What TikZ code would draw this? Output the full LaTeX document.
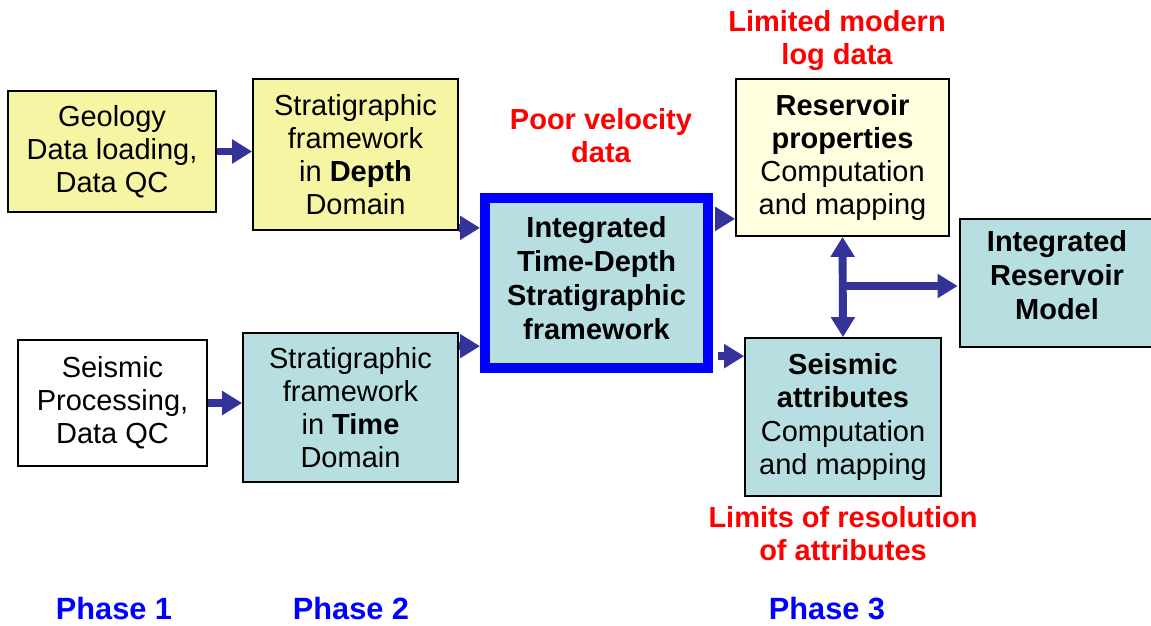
\documentclass[tikz,border=0pt]{standalone}
\usepackage{fontspec}
\setmainfont{Liberation Sans}
\usetikzlibrary{arrows.meta,positioning}
\definecolor{stratyellow}{HTML}{F5F5A3}
\definecolor{resyellow}{HTML}{FFFFDF}
\definecolor{seiscyan}{HTML}{B7DFE1}
\definecolor{flowblue}{HTML}{333399}
\definecolor{framblue}{HTML}{0000FF}
\definecolor{phaseblue}{HTML}{0000FF}

\begin{document}
\begin{tikzpicture}[x=0.02cm,y=-0.02cm,>={Triangle[length=0.4cm,width=0.46cm]}]
	\tikzstyle{block} = [draw, line width=1pt, rectangle, align=center, inner sep=0pt, font=\fontsize{16.5}{18.8}\selectfont]
	\tikzstyle{flow} = [draw=flowblue, line width=4.5pt]
	\tikzstyle{note} = [text=red, align=center, font=\bfseries\fontsize{16.5}{18.8}\selectfont]
	\tikzstyle{phase} = [text=phaseblue, font=\bfseries\fontsize{17.5}{20}\selectfont]
	\useasboundingbox (0,0) rectangle (1151,625);

	\node [block, fill=stratyellow, minimum width=4.16cm, minimum height=2.42cm] (geo) at (112,151.5) {Geology\\Data loading,\\Data QC};
	\node [block, fill=stratyellow, minimum width=4.1cm, minimum height=3.02cm] (depth) at (355.5,154.5) {Stratigraphic\\framework\\in \textbf{Depth}\\Domain};
	\node [block, fill=white, minimum width=3.78cm, minimum height=2.52cm] (seisproc) at (112.5,403) {Seismic\\Processing,\\Data QC};
	\node [block, fill=seiscyan, minimum width=4.3cm, minimum height=2.98cm] (time) at (350.5,407.5) {Stratigraphic\\framework\\in \textbf{Time}\\Domain};
	\node [block, fill=seiscyan, draw=framblue, line width=5.7pt, text depth=0.2cm, font=\bfseries\fontsize{16.5}{19.3}\selectfont, minimum width=4.46cm, minimum height=3.4cm] (integ) at (596.5,283) {Integrated\\Time-Depth\\Stratigraphic\\framework};
	\node [block, fill=resyellow, minimum width=4.26cm, minimum height=3.14cm] (res) at (842.5,157.5) {\textbf{Reservoir}\\\textbf{properties}\\Computation\\and mapping};
	\node [block, fill=seiscyan, minimum width=3.92cm, minimum height=3.16cm] (attr) at (843,417) {\textbf{Seismic}\\\textbf{attributes}\\Computation\\and mapping};
	% model box runs off the right edge
	\path [fill=seiscyan, draw, line width=1pt] (960,219) rectangle (1170,347);
	\node [block, draw=none, text depth=0.33cm, font=\bfseries\fontsize{16.5}{19.3}\selectfont, minimum width=3.94cm, minimum height=2.56cm] (model) at (1057,283) {Integrated\\Reservoir\\Model};

	% remarks and phases
	\node [note] (velocity) at (601,136) {Poor velocity\\data};
	\node [note] (logdata) at (837,41) {Limited modern\\log data};
	\node [note] (resolution) at (843,534) {Limits of resolution\\of attributes};
	\node [phase] (phase1) at (114,609) {Phase 1};
	\node [phase] (phase2) at (351,609) {Phase 2};
	\node [phase] (phase3) at (827,609) {Phase 3};

	% flows
	\coordinate (joint) at (843,286);
	\draw [flow, ->] (geo.east) -- (geo.east -| depth.west);
	\draw [flow, ->] ([yshift=0.06cm]depth.south east) -- ([yshift=0.06cm]depth.south east -| integ.west);
	\draw [flow, ->] (seisproc.east) -- (seisproc.east -| time.west);
	\draw [flow, ->] ([yshift=-0.28cm]time.north east) -- ([yshift=-0.28cm]time.north east -| integ.west);
	\draw [flow, ->] ([xshift=0.1cm,yshift=0.36cm]res.south west -| integ.east) -- ([yshift=0.36cm]res.south west);
	\draw [flow, ->] ([xshift=0.1cm,yshift=-0.38cm]attr.north west -| integ.east) -- ([yshift=-0.38cm]attr.north west);
	\draw [flow, <->] (res.south) -- (attr.north);
	\draw [flow, ->] (joint) -- (joint -| model.west);
\end{tikzpicture}
\end{document}
